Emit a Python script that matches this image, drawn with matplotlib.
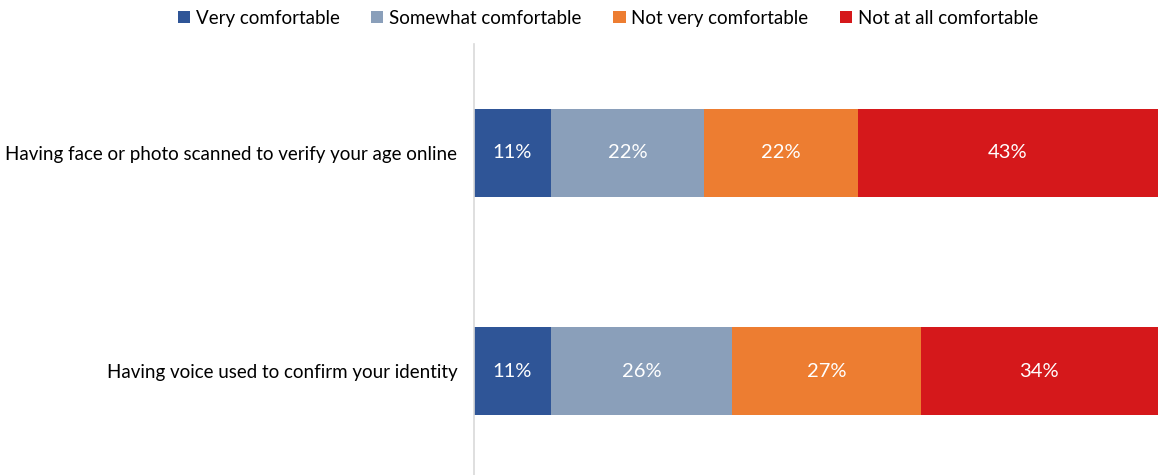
import matplotlib.pyplot as plt
import numpy as np

plt.rcParams['font.family'] = ['Lato', 'DejaVu Sans']

categories = ['Having face or photo scanned to verify your age online',
              'Having voice used to confirm your identity']
series = ['Very comfortable', 'Somewhat comfortable',
          'Not very comfortable', 'Not at all comfortable']
values = {
    'Very comfortable': [11, 11],
    'Somewhat comfortable': [22, 26],
    'Not very comfortable': [22, 27],
    'Not at all comfortable': [43, 34],
}
colors = ['#2F5597', '#8A9FBA', '#ED7D31', '#D5181B']

fig = plt.figure(figsize=(11.58, 4.75), dpi=100)
ax = fig.add_axes([0.4093, 0.0, 0.5907, 0.9074])

y = np.arange(len(categories))
left = np.zeros(len(categories))
for name, col in zip(series, colors):
    vals = np.array(values[name], dtype=float)
    bars = ax.barh(y, vals, left=left, height=0.4, color=col, label=name)
    for b, v in zip(bars, vals):
        ax.text(b.get_x() + b.get_width() / 2, b.get_y() + b.get_height() / 2,
                f'{v:.0f}%', ha='center', va='center', color='white', fontsize=14.5)
    left += vals

ax.set_xlim(0, left.max())
ax.set_ylim(1.477, -0.5)
ax.set_yticks(y)
ax.set_yticklabels(categories, fontsize=13.5, color='#000000')
ax.tick_params(axis='y', length=0, pad=12)
ax.set_xticks([])
for s in ['top', 'right', 'bottom']:
    ax.spines[s].set_visible(False)
ax.spines['left'].set_color('#D9D9D9')
ax.spines['left'].set_linewidth(1.2)

fig.legend(loc='center', bbox_to_anchor=(0.525, 0.962), ncol=4, frameon=False,
           fontsize=13.5, handlelength=0.65, handleheight=0.65, handletextpad=0.3,
           columnspacing=1.7)

fig.savefig('out.png', dpi=100)
